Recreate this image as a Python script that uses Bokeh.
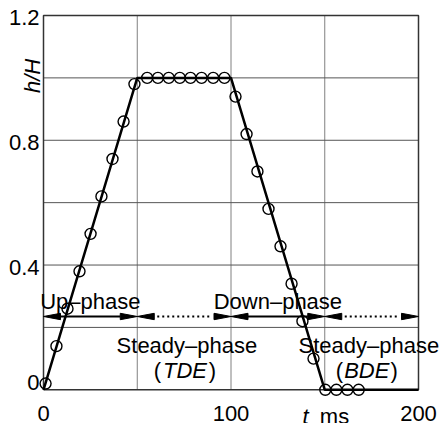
import math
from bokeh.plotting import figure
from bokeh.models import Range1d
from bokeh.core.properties import value
from bokeh.embed import file_html
from bokeh.resources import INLINE

# ---- data ----
line_t = [0, 50, 100, 150, 200]
line_h = [0, 1, 1, 0, 0]

meas_t = [1.1, 6.9, 12.8, 19.2, 25.1, 30.9, 36.8, 42.7, 48.5,
          55.3, 61.0, 66.8, 72.7, 78.4, 84.3, 90.5, 96.5,
          102.4, 108.3, 114.1, 120.0, 126.4, 132.3, 138.1, 144.0,
          150.3, 156.2, 162.1, 168.1]
meas_h = [0.02, 0.14, 0.26, 0.38, 0.50, 0.62, 0.74, 0.86, 0.98,
          1.0, 1.0, 1.0, 1.0, 1.0, 1.0, 1.0, 1.0,
          0.94, 0.82, 0.70, 0.58, 0.46, 0.34, 0.22, 0.10,
          0.0, 0.0, 0.0, 0.0]

phase_bounds = [0, 50, 100, 150, 200]
phase_dotted = [False, True, False, True]
arrow_level = 0.235

x_lim = [0, 200]
y_lim = [0, 1.2]
x_ticks = [0, 100, 200]
x_tick_labels = ["0", "100", "200"]
y_ticks = [0, 0.4, 0.8, 1.2]
y_tick_labels = ["0", "0.4", "0.8", "1.2"]
x_grid = [50, 100, 150]
y_grid = [0.2, 0.4, 0.6, 0.8, 1.0]

phase_labels = ["Up\u2013phase", "Down\u2013phase"]
phase_label_t = [25, 125]
steady_labels = ["Steady\u2013phase", "Steady\u2013phase"]
steady_sub = ["TDE", "BDE"]
steady_label_t = [76.5, 173.5]

FONT = "Liberation Sans"
FS = "22px"

# ---- layout: plot box inside the canvas (pixels) ----
W, H = 445, 423
BOX_L, BOX_R, BOX_T, BOX_B = 43, 418, 15, 389.3
ppx = (BOX_R - BOX_L) / (x_lim[1] - x_lim[0])      # px per ms
ppy = (BOX_B - BOX_T) / (y_lim[1] - y_lim[0])      # px per unit h
xr = Range1d(x_lim[0] - BOX_L / ppx, x_lim[1] + (W - BOX_R) / ppx)
yr = Range1d(y_lim[0] - (H - BOX_B) / ppy, y_lim[1] + BOX_T / ppy)

p = figure(width=W, height=H, output_backend="svg", toolbar_location=None,
           x_range=xr, y_range=yr, min_border=0)
p.axis.visible = False
p.grid.visible = False
p.outline_line_color = None
p.background_fill_color = "white"
p.border_fill_color = "white"

def dx(px):
    return px / ppx

def dy(px):
    return px / ppy

# grid lines
p.segment(x0=x_grid, y0=[y_lim[0]] * len(x_grid), x1=x_grid, y1=[y_lim[1]] * len(x_grid),
          line_color="#808080", line_width=1)
p.segment(x0=[x_lim[0]] * len(y_grid), y0=y_grid, x1=[x_lim[1]] * len(y_grid), y1=y_grid,
          line_color="#555555", line_width=1)

# plot box
p.line([x_lim[0], x_lim[1], x_lim[1], x_lim[0], x_lim[0]],
       [y_lim[0], y_lim[0], y_lim[1], y_lim[1], y_lim[0]],
       line_color="#333333", line_width=1.5)

# tick labels
p.text(x=x_ticks, y=[y_lim[0] - dy(24)] * len(x_ticks), text=x_tick_labels,
       text_align="center", text_baseline="alphabetic", text_font=value(FONT),
       text_font_size=FS, text_color="black")
p.text(x=[x_lim[0] - dx(4)] * len(y_ticks), y=y_ticks, text=y_tick_labels,
       y_offset=[-7, 2, 2, 2],
       text_align="right", text_baseline="middle", text_font=value(FONT),
       text_font_size=FS, text_color="black")

# main line and markers
p.line(line_t, line_h, line_color="black", line_width=2.5)
p.scatter(meas_t, meas_h, marker="circle", size=11, fill_color=None,
          line_color="black", line_width=1.4)

# phase arrows
head_len = dx(17)
head_hw = dy(3.2)
xs, ys = [], []
for i in range(len(phase_bounds) - 1):
    a, b = phase_bounds[i], phase_bounds[i + 1]
    xs.append([a, a + head_len, a + head_len])
    ys.append([arrow_level, arrow_level + head_hw, arrow_level - head_hw])
    xs.append([b, b - head_len, b - head_len])
    ys.append([arrow_level, arrow_level + head_hw, arrow_level - head_hw])
    if phase_dotted[i]:
        p.line([a + head_len + dx(3), b - head_len - dx(3)], [arrow_level, arrow_level],
               line_color="black", line_width=2, line_dash="2 3")
    else:
        p.line([a + head_len, b - head_len], [arrow_level, arrow_level],
               line_color="black", line_width=2)
p.patches(xs, ys, fill_color="black", line_color="black", line_width=1)

# phase texts
p.text(x=phase_label_t, y=[arrow_level + dy(15)] * 2, text=phase_labels,
       text_align="center", text_baseline="alphabetic", text_font=value(FONT),
       text_font_size=FS, text_color="black")
p.text(x=steady_label_t, y=[arrow_level - dy(29)] * 2, text=steady_labels,
       text_align="center", text_baseline="alphabetic", text_font=value(FONT),
       text_font_size=FS, text_color="black")
sub_t = [t - dx(2) for t in steady_label_t]
p.text(x=sub_t, y=[arrow_level - dy(54)] * 2, text=steady_sub,
       text_align="center", text_baseline="alphabetic", text_font=value(FONT),
       text_font_size=FS, text_font_style="italic", text_color="black")
half = [len(s) * 0.69 * 22 / 2 for s in steady_sub]
p.text(x=[t - dx(h + 1) for t, h in zip(sub_t, half)], y=[arrow_level - dy(54)] * 2,
       text=["(", "("], text_align="right", text_baseline="alphabetic",
       text_font=value(FONT), text_font_size=FS, text_color="black")
p.text(x=[t + dx(h + 1) for t, h in zip(sub_t, half)], y=[arrow_level - dy(54)] * 2,
       text=[")", ")"], text_align="left", text_baseline="alphabetic",
       text_font=value(FONT), text_font_size=FS, text_color="black")

# axis titles
p.text(x=[x_lim[0] - dx(11)], y=[1.0 + dy(2)], text=["h/H"], angle=math.pi / 2,
       text_align="center", text_baseline="alphabetic", text_font=value(FONT),
       text_font_size=FS, text_font_style="italic", text_color="black")
p.text(x=[x_lim[0] + dx(262)], y=[y_lim[0] - dy(26.5)], text=["t"],
       text_align="center", text_baseline="alphabetic", text_font=value(FONT),
       text_font_size=FS, text_font_style="italic", text_color="black")
p.text(x=[x_lim[0] + dx(291)], y=[y_lim[0] - dy(26.5)], text=["ms"],
       text_align="center", text_baseline="alphabetic", text_font=value(FONT),
       text_font_size=FS, text_color="black")

open("out.html", "w").write(file_html(p, INLINE))
